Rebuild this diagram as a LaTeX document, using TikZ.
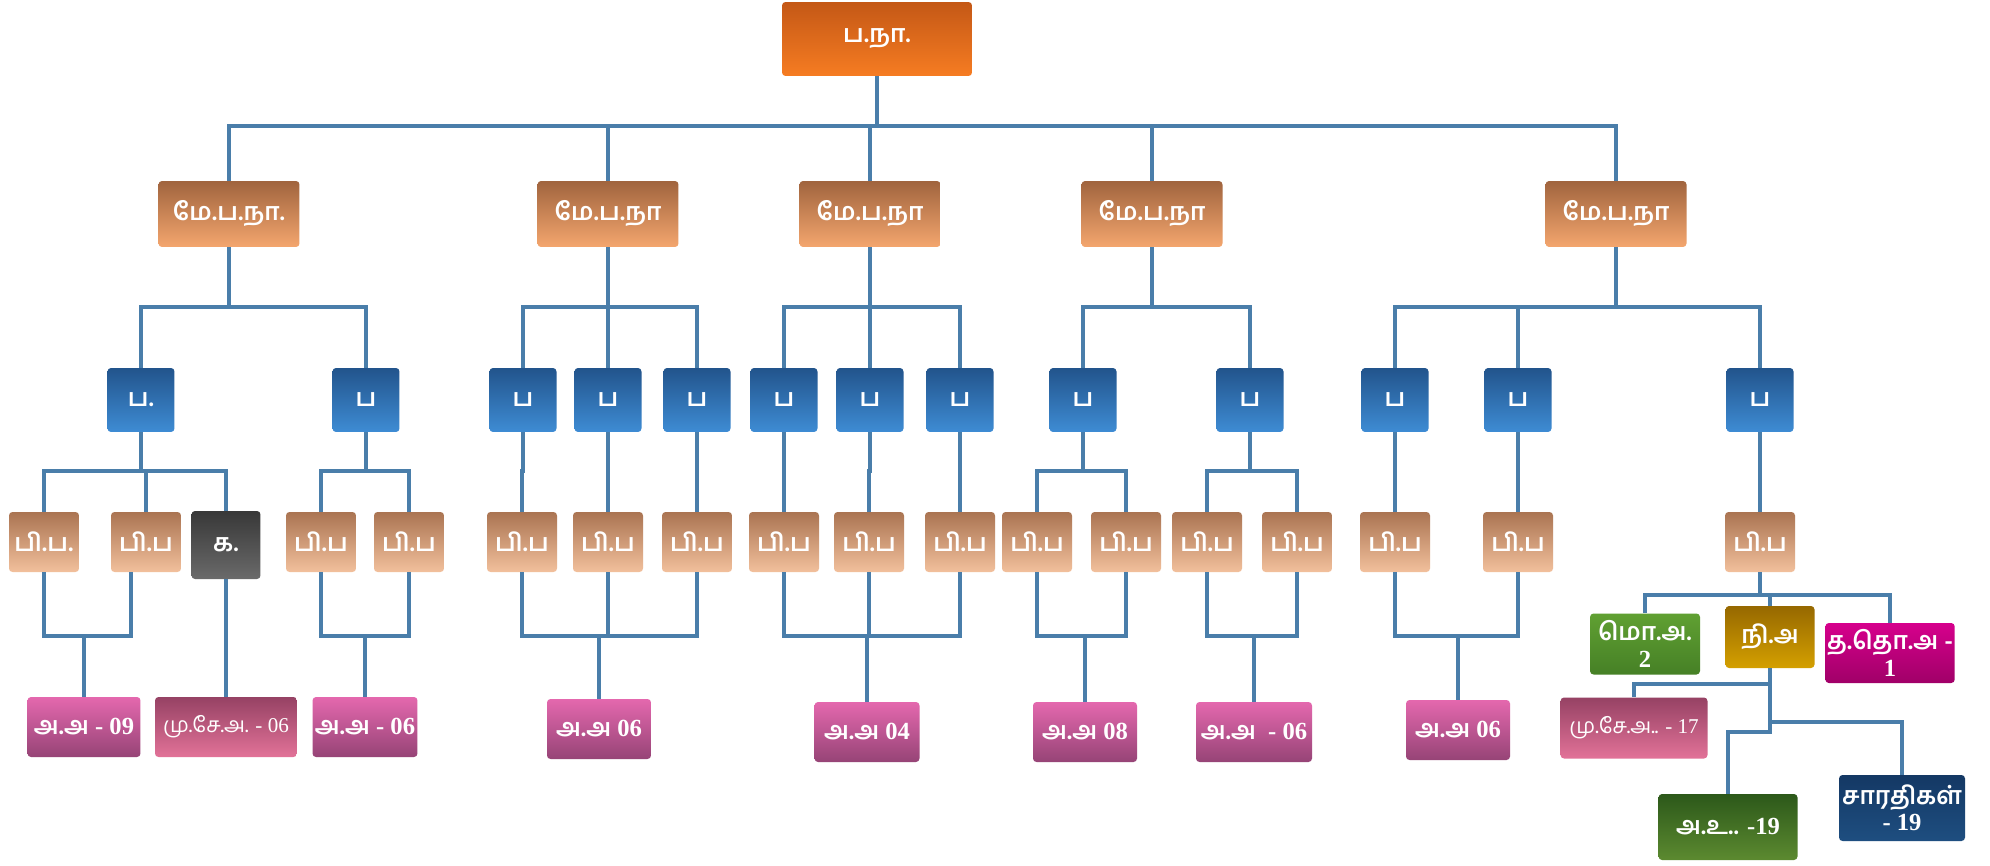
\documentclass[tikz,border=0pt]{standalone}
\usepackage{fontspec}
\setmainfont{Hind Madurai}[Script=Tamil]
\newfontfamily\digs{Liberation Serif}
\usepackage{tikz}

\definecolor{linkblue}{RGB}{74,126,170}
\definecolor{chieftop}{RGB}{196,88,22}
\definecolor{chiefbot}{RGB}{246,124,34}
\definecolor{disttop}{RGB}{160,100,62}
\definecolor{distbot}{RGB}{244,166,110}
\definecolor{bluetop}{RGB}{34,84,140}
\definecolor{bluebot}{RGB}{62,140,212}
\definecolor{unittop}{RGB}{170,116,82}
\definecolor{unitbot}{RGB}{242,192,156}
\definecolor{graytop}{RGB}{56,56,56}
\definecolor{graybot}{RGB}{106,106,106}
\definecolor{pinktop}{RGB}{228,104,174}
\definecolor{pinkbot}{RGB}{150,68,118}
\definecolor{rosetop}{RGB}{150,66,100}
\definecolor{rosebot}{RGB}{226,114,152}

\tikzset{
  box/.style={rectangle,rounded corners=2pt,text=white,align=center,inner sep=1pt,
    font=\fontsize{14}{15}\selectfont\bfseries},
  chief/.style={box,top color=chieftop,bottom color=chiefbot,minimum width=3.8cm,minimum height=1.48cm},
  dist/.style={box,top color=disttop,bottom color=distbot,minimum width=2.82cm,minimum height=1.32cm},
  post/.style={box,top color=bluetop,bottom color=bluebot,minimum width=1.34cm,minimum height=1.28cm},
  unit/.style={box,top color=unittop,bottom color=unitbot,minimum width=1.4cm,minimum height=1.2cm},
  office/.style={box,top color=pinktop,bottom color=pinkbot,minimum height=1.2cm},
  link/.style={draw=linkblue,line width=2.1pt}
}

\begin{document}
\begin{tikzpicture}[x=0.02cm,y=-0.02cm]

  \fill [white] (0,0) rectangle (1990,865);
  \useasboundingbox (0,0) rectangle (1990,865);

  \node (hq) at (877,39) [chief] {ப.நா.};

  \foreach \i/\x/\t in {1/229/{மே.ப.நா.},2/608/{மே.ப.நா},3/870/{மே.ப.நா},4/1152/{மே.ப.நா},5/1616/{மே.ப.நா}}
  {
    \node (d\i) at (\x,214) [dist] {\t};
    \draw [link] (hq.south) |- (d\i.north |- 0,126) -- (d\i.north);
  }

  \foreach \i/\x/\t in {1/141/{ப.},2/366/ப,3/523/ப,4/608/ப,5/697/ப,6/784/ப,7/870/ப,
    8/960/ப,9/1083/ப,10/1250/ப,11/1395/ப,12/1518/ப,13/1760/ப}
  {
    \node (b\i) at (\x,400) [post] {\t};
  }
  \foreach \p/\c in {d1/b1,d1/b2,d2/b3,d2/b4,d2/b5,d3/b6,d3/b7,d3/b8,d4/b9,d4/b10,d5/b11,d5/b12,d5/b13}
  {
    \draw [link] (\p.south) |- (\c.north |- 0,307) -- (\c.north);
  }

  \foreach \i/\x/\t in {1/44/{பி.ப.},2/146/பி.ப,4/321/பி.ப,5/409/பி.ப,6/522/பி.ப,7/608/பி.ப,
    8/697/பி.ப,9/784/பி.ப,10/869/பி.ப,11/960/பி.ப,12/1037/பி.ப,13/1126/பி.ப,
    14/1207/பி.ப,15/1297/பி.ப,16/1395/பி.ப,17/1518/பி.ப,18/1760/பி.ப}
  {
    \node (u\i) at (\x,542) [unit] {\t};
  }
  \node (u3) at (226,545) [box,top color=graytop,bottom color=graybot,minimum width=1.38cm,minimum height=1.36cm] {க.};
  \foreach \p/\c in {b1/u1,b1/u2,b1/u3,b2/u4,b2/u5,b3/u6,b4/u7,b5/u8,b6/u9,b7/u10,b8/u11,
    b9/u12,b9/u13,b10/u14,b10/u15,b11/u16,b12/u17,b13/u18}
  {
    \draw [link] (\p.south) |- (\c.north |- 0,471) -- (\c.north);
  }

  \node (o1) at (84,727) [office,minimum width=2.26cm] {அ.அ {\digs - 09}};
  \node (o2) at (226,727) [box,top color=rosetop,bottom color=rosebot,minimum width=2.84cm,minimum height=1.2cm,font=\fontsize{12}{13}\selectfont] {மு.சே.அ. {\digs - 06}};
  \node (o3) at (365,727) [office,minimum width=2.1cm] {அ.அ {\digs - 06}};
  \node (o4) at (599,729) [office,minimum width=2.08cm] {அ.அ {\digs 06}};
  \node (o5) at (867,732) [office,minimum width=2.1cm] {அ.அ {\digs 04}};
  \node (o6) at (1085,732) [office,minimum width=2.08cm] {அ.அ {\digs 08}};
  \node (o7) at (1254,732) [office,minimum width=2.32cm] {அ.அ \ {\digs - 06}};
  \node (o8) at (1458,730) [office,minimum width=2.08cm] {அ.அ {\digs 06}};
  \draw [link] ([xshift=-0.3cm]u2.south) |- (o1.north |- 0,636) -- (o1.north);
  \foreach \c/\p in {u1/o1,u3/o2,u4/o3,u5/o3,u6/o4,u7/o4,u8/o4,u9/o5,u10/o5,u11/o5,
    u12/o6,u13/o6,u14/o7,u15/o7,u16/o8,u17/o8}
  {
    \draw [link] (\c.south) |- (\p.north |- 0,636) -- (\p.north);
  }

  \node (mo) at (1645,644) [box,top color={rgb,255:red,96;green,160;blue,50},bottom color={rgb,255:red,70;green,128;blue,38},minimum width=2.2cm,minimum height=1.22cm] {மொ.அ.\\{\digs 2}};
  \node (ni) at (1770,637) [box,top color={rgb,255:red,150;green,104;blue,0},bottom color={rgb,255:red,212;green,160;blue,0},minimum width=1.78cm,minimum height=1.24cm] {நி.அ};
  \node (tt) at (1890,653) [box,top color={rgb,255:red,214;green,0;blue,140},bottom color={rgb,255:red,160;green,0;blue,104},minimum width=2.24cm,minimum height=1.2cm] {த.தொ.அ -\\{\digs 1}};
  \foreach \c in {mo,ni,tt}
  {
    \draw [link] (u18.south) |- (\c.north |- 0,595) -- (\c.north);
  }

  \node (ms) at (1634,728) [box,top color=rosetop,bottom color=rosebot,minimum width=2.94cm,minimum height=1.22cm,font=\fontsize{12}{13}\selectfont] {மு.சே.அ.. {\digs - 17}};
  \node (au) at (1728,827) [box,top color={rgb,255:red,44;green,88;blue,26},bottom color={rgb,255:red,92;green,138;blue,48},minimum width=2.78cm,minimum height=1.32cm] {அ.உ.. {\digs -19}};
  \node (sa) at (1902,808) [box,top color={rgb,255:red,20;green,56;blue,100},bottom color={rgb,255:red,30;green,78;blue,128},minimum width=2.52cm,minimum height=1.32cm] {சாரதிகள்\\{\digs - 19}};
  \foreach \c/\y in {ms/684,sa/722,au/732}
  {
    \draw [link] (ni.south) |- (\c.north |- 0,\y) -- (\c.north);
  }

\end{tikzpicture}
\end{document}
